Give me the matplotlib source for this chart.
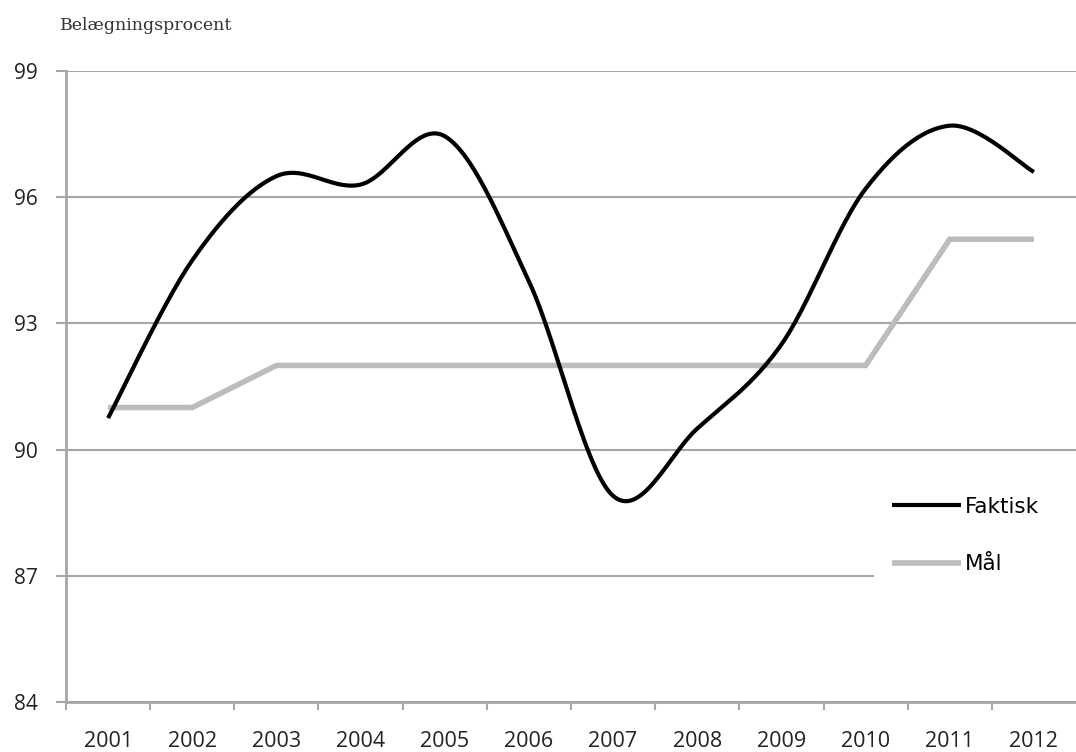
import matplotlib
matplotlib.use("Agg")
import matplotlib.pyplot as plt
from matplotlib.patches import Rectangle
import numpy as np

years = ["2001", "2002", "2003", "2004", "2005", "2006",
         "2007", "2008", "2009", "2010", "2011", "2012"]
faktisk = [90.75, 94.5, 96.5, 96.3, 97.45, 94.0, 88.9, 90.5, 92.5, 96.2, 97.7, 96.6]
maal = [91, 91, 92, 92, 92, 92, 92, 92, 92, 92, 95, 95]
yticks = [84, 87, 90, 93, 96, 99]

GRID = "#a6a6a6"
GRAY = "#bcbcbc"


def smooth(xs, ys, n=30):
    # excel-like smoothed line: cubic bezier with catmull-rom control points
    xs = np.asarray(xs, float)
    ys = np.asarray(ys, float)
    px, py = [], []
    m = len(xs)
    for i in range(m - 1):
        i0 = max(i - 1, 0)
        i3 = min(i + 2, m - 1)
        p0 = np.array([xs[i], ys[i]])
        p3 = np.array([xs[i + 1], ys[i + 1]])
        c1 = p0 + (p3 - np.array([xs[i0], ys[i0]])) / 6.0
        c2 = p3 - (np.array([xs[i3], ys[i3]]) - p0) / 6.0
        t = np.linspace(0, 1, n)[:, None]
        pts = ((1 - t) ** 3) * p0 + 3 * ((1 - t) ** 2) * t * c1 + 3 * (1 - t) * t ** 2 * c2 + t ** 3 * p3
        px.extend(pts[:, 0])
        py.extend(pts[:, 1])
    return np.array(px), np.array(py)


fig = plt.figure(figsize=(10.76, 7.52), dpi=100)
ax = fig.add_axes([66 / 1076, 1 - 702 / 752, 1010 / 1076, 631 / 752])

x = np.arange(len(years))
sx, sy = smooth(x, faktisk)
ax.plot(sx, sy, color="black", lw=3.0, solid_capstyle="butt", zorder=4, label="Faktisk")
ax.plot(x, maal, color=GRAY, lw=4.0, solid_capstyle="butt", solid_joinstyle="miter", zorder=3, label="Mål")

ax.set_xlim(-0.5, len(years) - 0.5)
ax.set_ylim(84, 99)
ax.set_yticks(yticks)
ax.set_yticklabels([str(v) for v in yticks], fontsize=15, family="Open Sans", color="#222222")
ax.yaxis.grid(True, color=GRID, lw=1.5)
ax.set_axisbelow(True)

ax.set_xticks(np.arange(-0.5, len(years) - 0.5, 1.0))
ax.set_xticklabels([])
ax.set_xticks(x, minor=True)
ax.set_xticklabels(years, minor=True, fontsize=15.5, family="Open Sans", color="#222222")
ax.tick_params(axis="x", which="major", length=6, width=1.5, color=GRID, direction="out")
ax.tick_params(axis="x", which="minor", length=0, pad=21)
ax.tick_params(axis="y", length=7, width=1.5, color=GRID, pad=13)

for s in ["top", "right"]:
    ax.spines[s].set_visible(False)
for s in ["left", "bottom"]:
    ax.spines[s].set_color(GRID)
    ax.spines[s].set_linewidth(2)

# white area behind legend (hides part of the 87 gridline)
ax.add_patch(Rectangle((0.8, 0.17), 0.2, 0.2, transform=ax.transAxes,
                       facecolor="white", edgecolor="none", zorder=2))

leg = ax.legend(loc="upper left", bbox_to_anchor=(881 / 1076, 266 / 752),
                bbox_transform=fig.transFigure, frameon=False, borderpad=0,
                handlelength=3.2, handletextpad=0.2, labelspacing=1.75,
                prop={"family": "DejaVu Sans", "size": 15.5})
leg.set_zorder(5)

fig.text(60 / 1076, 1 - 26 / 752, "Belægningsprocent", fontsize=12.5,
         family="DejaVu Serif", color="#333333", va="center")

fig.savefig("out.png", dpi=100)
